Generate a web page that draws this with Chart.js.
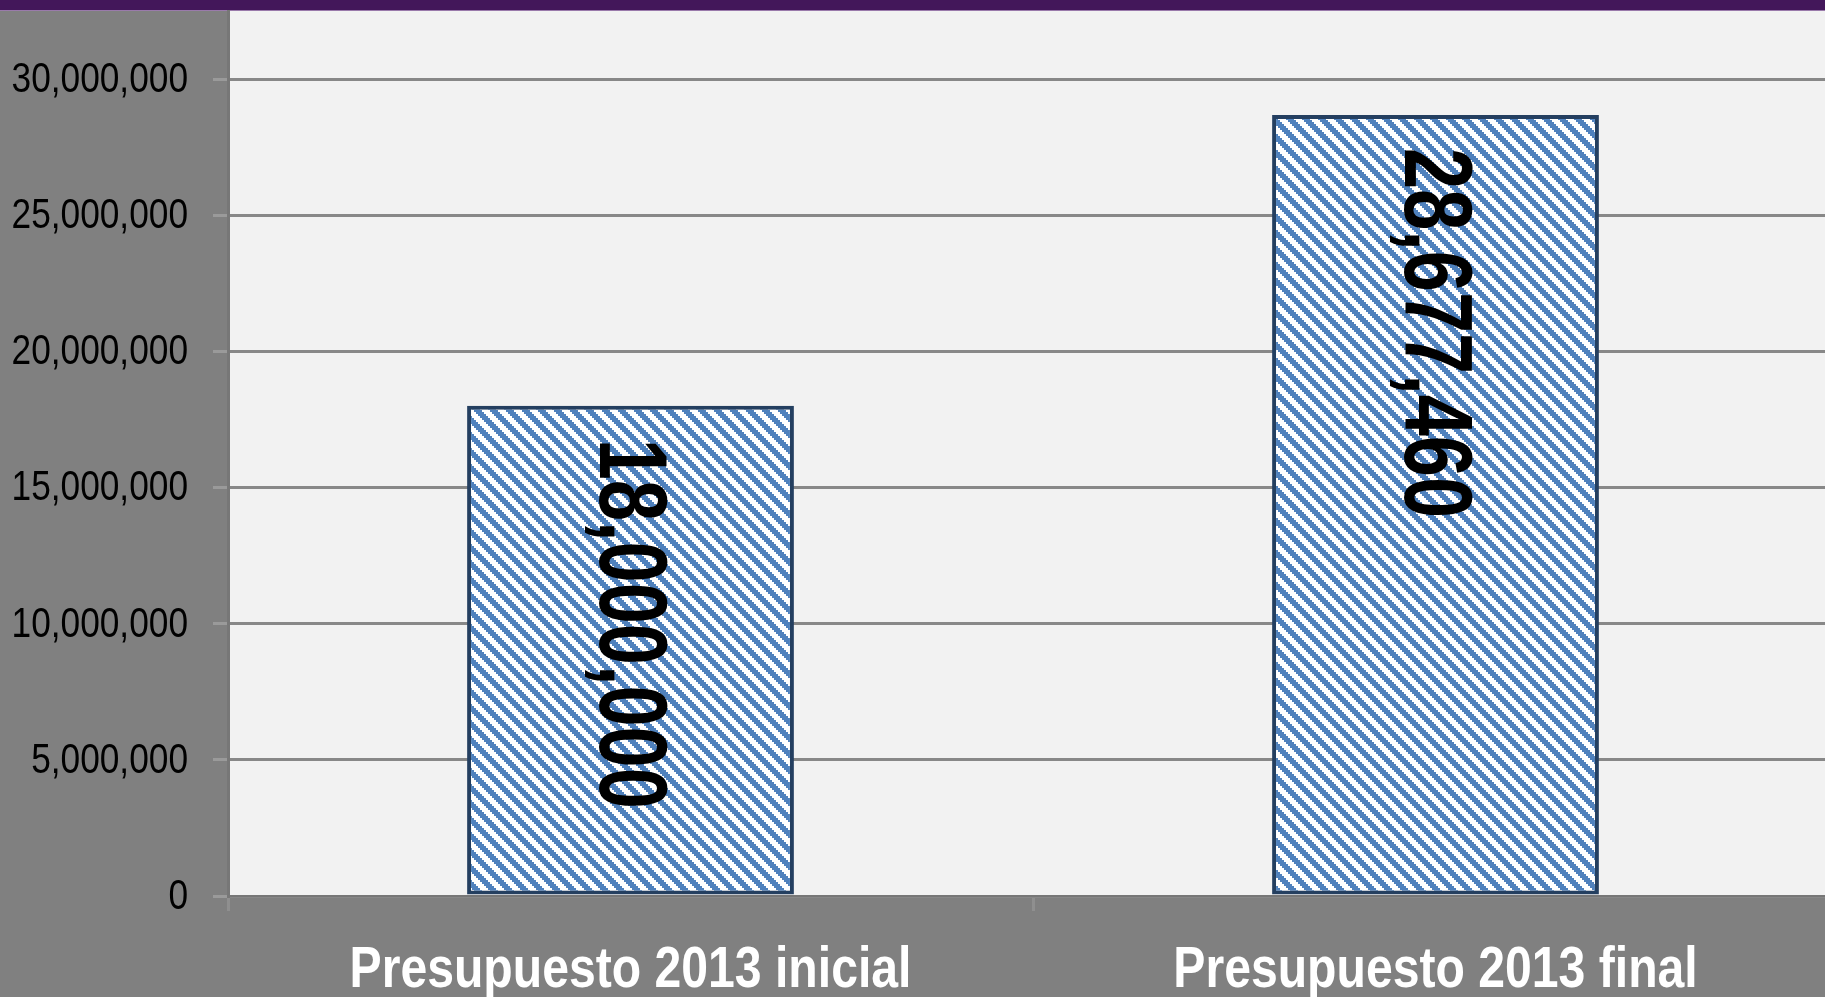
<!DOCTYPE html>
<html>
<head>
<meta charset="utf-8">
<script src="https://cdn.jsdelivr.net/npm/chart.js@4"></script>
<style>
  html, body { margin: 0; padding: 0; background: #808080; overflow: hidden; }
  #chart { display: block; }
</style>
</head>
<body>
<canvas id="chart" width="1838" height="997"></canvas>
<script>
const categories = ['Presupuesto 2013 inicial', 'Presupuesto 2013 final']
const budgetValues = [18000000, 28677460]
const yTickValues = [0, 5000000, 10000000, 15000000, 20000000, 25000000, 30000000]
const yMax = 32500000

// no narrow font installed, so Liberation Sans gets squeezed by hand
const FONT = "'Liberation Sans', Arial, sans-serif"
const NARROW = 0.83

const fmt = (v) => v.toLocaleString('en-US')

// stair-stepped downward diagonal, like the Excel pattern fill
const makeStripes = () => {
  const n = 16
  const c = document.createElement('canvas')
  c.width = n
  c.height = n
  const p = c.getContext('2d')
  p.fillStyle = '#ffffff'
  p.fillRect(0, 0, n, n)
  p.fillStyle = '#4f81bd'
  for (let r = 0; r < n; r++) {
    const shift = Math.floor(r / 2) * 2
    for (let col = 0; col < n; col++) {
      if ((((col - shift) % n) + n) % n < n / 2) p.fillRect(col, r, 1, 1)
    }
  }
  return p.createPattern(c, 'repeat')
}

const squeezedText = (ctx, text, x, y, sx) => {
  ctx.save()
  ctx.translate(x, y)
  ctx.scale(sx, 1)
  ctx.fillText(text, 0, 0)
  ctx.restore()
}

const background = {
  id: 'background',
  beforeDraw(chart) {
    const { ctx, chartArea: { left, top, bottom } } = chart
    ctx.save()
    ctx.fillStyle = '#808080'
    ctx.fillRect(0, 0, chart.width, chart.height)
    ctx.fillStyle = '#f2f2f2'
    ctx.fillRect(left, top, chart.width - left, bottom - top)
    ctx.fillStyle = '#43175a'
    ctx.fillRect(0, 0, chart.width, 10)
    ctx.fillStyle = '#9a7aab'
    ctx.fillRect(0, 10, chart.width, 1)
    ctx.restore()
  }
}

const axisText = {
  id: 'axisText',
  afterDraw(chart) {
    const { ctx, scales: { x, y } } = chart
    ctx.save()
    ctx.fillStyle = '#000000'
    ctx.font = '43px ' + FONT
    ctx.textAlign = 'right'
    ctx.textBaseline = 'middle'
    yTickValues.forEach((v) => {
      squeezedText(ctx, fmt(v), 188, y.getPixelForValue(v) + 1, 0.82)
    })
    ctx.fillStyle = '#ffffff'
    ctx.font = 'bold 58px ' + FONT
    ctx.textAlign = 'center'
    ctx.textBaseline = 'alphabetic'
    categories.forEach((label, i) => {
      squeezedText(ctx, label, x.getPixelForTick(i), 987, NARROW)
    })
    ctx.restore()
  }
}

const barLabels = {
  id: 'barLabels',
  afterDatasetsDraw(chart) {
    const { ctx } = chart
    const meta = chart.getDatasetMeta(0)
    ctx.save()
    ctx.fillStyle = '#000000'
    ctx.font = 'bold 96px ' + FONT
    ctx.textAlign = 'left'
    ctx.textBaseline = 'middle'
    meta.data.forEach((bar, i) => {
      ctx.save()
      ctx.translate(bar.x - 4, bar.y + 33)
      ctx.rotate(Math.PI / 2)
      ctx.scale(0.77, 1)
      ctx.fillText(fmt(budgetValues[i]), 0, 0)
      ctx.restore()
    })
    ctx.restore()
  }
}

new Chart(document.getElementById('chart'), {
  type: 'bar',
  plugins: [background, barLabels, axisText],
  data: {
    labels: categories,
    datasets: [
      {
        data: budgetValues,
        backgroundColor: makeStripes(),
        borderColor: '#243f60',
        borderWidth: 4,
        borderSkipped: false,
        barPercentage: 0.406,
        categoryPercentage: 1
      }
    ]
  },
  options: {
    responsive: false,
    animation: false,
    layout: {
      padding: { top: 11, right: 0, left: 0, bottom: 0 }
    },
    plugins: {
      legend: { display: false },
      tooltip: { enabled: false }
    },
    scales: {
      x: {
        afterFit(scale) {
          scale.height = 101
        },
        border: { display: true, color: '#777777', width: 2 },
        grid: {
          drawOnChartArea: false,
          tickLength: 15,
          tickColor: '#8f8f8f',
          tickWidth: 3
        },
        ticks: { display: false }
      },
      y: {
        min: 0,
        max: yMax,
        afterFit(scale) {
          scale.width = 228
        },
        afterBuildTicks(scale) {
          scale.ticks = yTickValues.map((v) => ({ value: v }))
        },
        border: { display: true, color: '#777777', width: 3 },
        grid: {
          color: '#888888',
          lineWidth: 3,
          tickLength: 15,
          tickColor: '#9a9a9a'
        },
        ticks: { display: false }
      }
    }
  }
})
</script>
</body>
</html>
